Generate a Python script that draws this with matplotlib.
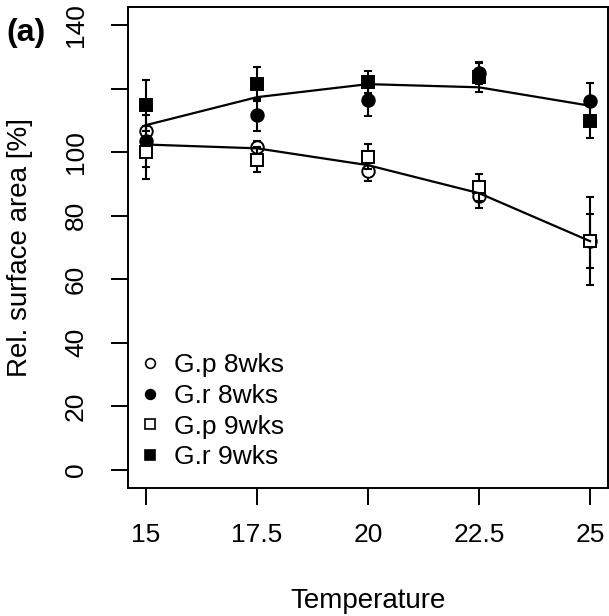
import matplotlib.pyplot as plt
import numpy as np

plt.rcParams['font.family'] = ['Liberation Sans', 'DejaVu Sans']

temperature = [15, 17.5, 20, 22.5, 25]

# G.p 8wks (open circles)
gp8_mean = [106.7, 101.5, 94.1, 86.2, 72.0]
gp8_err = [1.5, 2.0, 3.3, 3.8, 8.6]
# G.r 8wks (filled circles)
gr8_mean = [103.6, 111.7, 116.5, 124.9, 116.2]
gr8_err = [8.2, 5.0, 5.1, 3.5, 5.4]
# G.p 9wks (open squares)
gp9_mean = [99.9, 97.6, 98.6, 88.9, 72.1]
gp9_err = [8.2, 4.0, 3.9, 4.2, 13.9]
# G.r 9wks (filled squares)
gr9_mean = [114.8, 121.4, 122.0, 123.5, 109.9]
gr9_err = [8.0, 5.3, 3.4, 4.5, 5.3]

# fitted trend lines
gr_line = [108.5, 117.3, 121.4, 120.4, 114.6]
gp_line = [102.4, 101.2, 95.9, 87.1, 72.0]

series = [
    ("G.p 8wks", gp8_mean, gp8_err, 'o', 'white'),
    ("G.r 8wks", gr8_mean, gr8_err, 'o', 'black'),
    ("G.p 9wks", gp9_mean, gp9_err, 's', 'white'),
    ("G.r 9wks", gr9_mean, gr9_err, 's', 'black'),
]

fig = plt.figure(figsize=(6.09, 6.16), dpi=100)
ax = fig.add_axes([0.2105, 0.2081, 0.7875, 0.7802])

handles = []
for i, (name, m, e, mk, fc) in enumerate(series):
    ax.errorbar(temperature, m, yerr=e, fmt='none', ecolor='black',
                elinewidth=1.5, capsize=3, capthick=1.5, zorder=2 + 2 * i)
    ms = 9 if mk == 'o' else 8.5
    ax.plot(temperature, m, linestyle='none', marker=mk, markersize=ms,
            markerfacecolor=fc, markeredgecolor='black', markeredgewidth=1.4,
            zorder=3 + 2 * i)
    h, = ax.plot([], [], linestyle='none', marker=mk, markersize=7,
                 markerfacecolor=fc, markeredgecolor='black',
                 markeredgewidth=1.2, label=name)
    handles.append(h)

ax.plot(temperature, gr_line, color='black', linewidth=1.6, zorder=20)
ax.plot(temperature, gp_line, color='black', linewidth=1.6, zorder=20)

ax.set_xlim(14.6, 25.4)
ax.set_ylim(-5.6, 145.6)
ax.set_xticks(temperature)
ax.set_xticklabels(["15", "17.5", "20", "22.5", "25"])
ax.set_yticks(np.arange(0, 141, 20))
ax.set_yticklabels(["0", "20", "40", "60", "80", "100", "", "140"],
                   rotation=90, va='center')

for s in ax.spines.values():
    s.set_linewidth(1.4)
ax.tick_params(axis='both', direction='out', length=12, width=1.4,
               labelsize=19)
ax.tick_params(axis='x', pad=13)
ax.tick_params(axis='y', pad=17)

ax.set_xlabel("Temperature", fontsize=20, labelpad=30)
ax.set_ylabel("Rel. surface area [%]", fontsize=20, labelpad=22)

fig.text(0.043, 0.946, "(a)", fontsize=23, fontweight='bold',
         ha='center', va='center')

ax.legend(handles=handles, loc='lower left', bbox_to_anchor=(-0.021, -0.005),
          frameon=False, fontsize=19, handlelength=0.8, handletextpad=0.5,
          labelspacing=0.25, borderpad=0.3)

fig.savefig("out.png", dpi=100)
